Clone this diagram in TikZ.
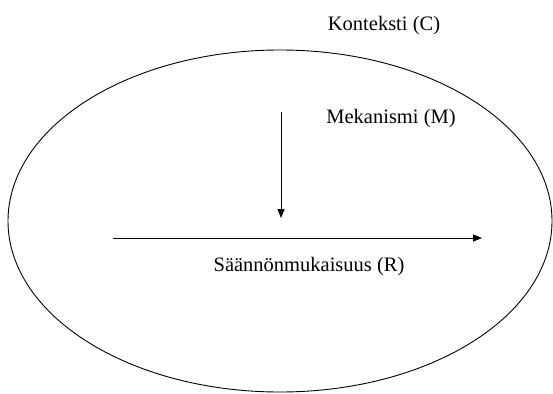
\documentclass[tikz,border=0pt]{standalone}
\usepackage{fontspec}
\setmainfont{Liberation Serif}
\usetikzlibrary{arrows.meta}
\begin{document}
\begin{tikzpicture}[x=1pt,y=-1pt,
  lbl/.style={font=\fontsize{20.5}{23}\selectfont, inner sep=0pt},
  arr/.style={line width=0.9pt, -{Triangle[length=9pt,width=7pt]}}]
\useasboundingbox (0,0) rectangle (553,393);
\draw[line width=0.9pt] (280,221) ellipse [x radius=272, y radius=171];
\node[lbl] (C) at (384,26) {Konteksti (C)};
\node[lbl] (M) at (391,119) {Mekanismi (M)};
\node[lbl] (R) at (309,267) {Säännönmukaisuus (R)};
\coordinate (m1) at (281,112);
\coordinate (m2) at (281,218);
\coordinate (r1) at (113,238);
\coordinate (r2) at (482,238);
\draw[arr] (m1) -- (m2);
\draw[arr] (r1) -- (r2);
\end{tikzpicture}
\end{document}
